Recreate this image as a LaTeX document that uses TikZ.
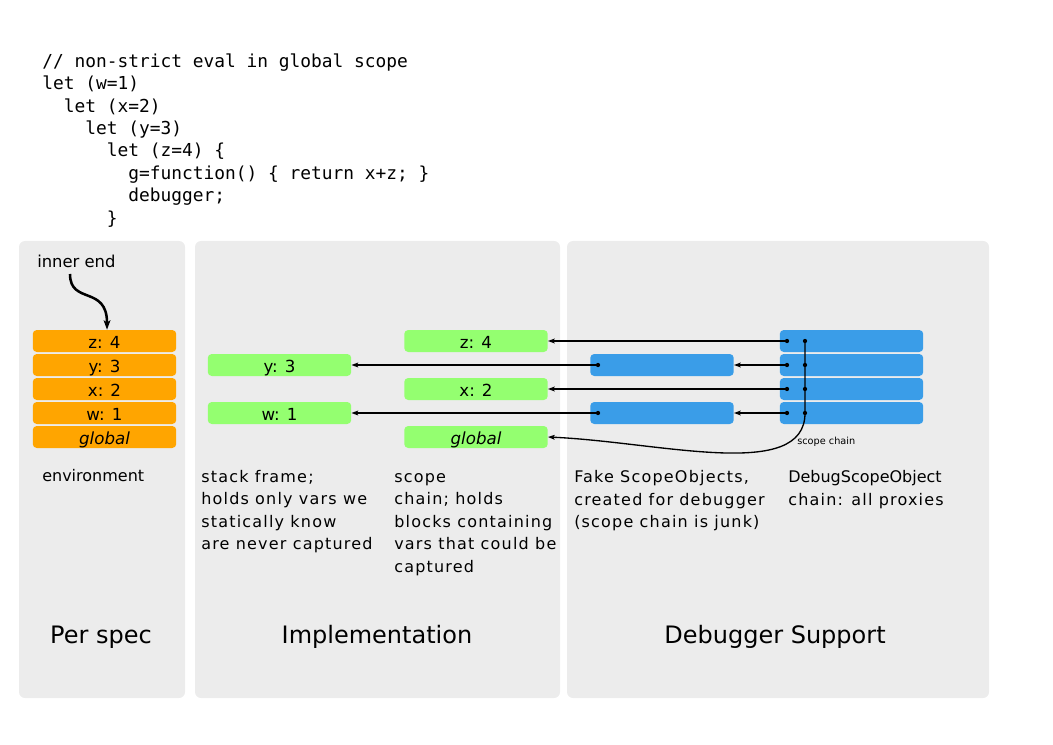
\documentclass[tikz,border=0pt]{standalone}
\usepackage{fontspec}
\setmainfont{DejaVu Sans}
\setmonofont{DejaVu Sans Mono}
\newfontfamily\spacedfont[LetterSpace=7.5]{DejaVu Sans}
\usetikzlibrary{arrows.meta}
\definecolor{panelgray}{HTML}{ECECEC}
\definecolor{envorange}{HTML}{FFA500}
\definecolor{implgreen}{HTML}{94FF70}
\definecolor{dbgblue}{HTML}{3A9DE8}
\begin{document}
\begin{tikzpicture}[x=0.75pt,y=-0.75pt,
  panel/.style={fill=panelgray,draw=none,rounded corners=4.5pt},
  cell/.style={rounded corners=3pt,minimum width=107.6pt,minimum height=16.5pt,
    inner sep=0pt,text height=11pt,text depth=0pt,font=\fontsize{12.5}{15}\selectfont},
  orangecell/.style={cell,fill=envorange},
  greencell/.style={cell,fill=implgreen},
  bluecell/.style={cell,fill=dbgblue},
  desc/.style={anchor=north west,align=left,inner sep=0pt,
    font=\spacedfont\fontsize{12}{16.875}\selectfont},
  plain/.style={anchor=base west,inner sep=0pt,font=\fontsize{12.3}{15}\selectfont},
  title/.style={anchor=base,inner sep=0pt,font=\fontsize{18}{22}\selectfont},
  arr/.style={line width=1pt,-{Stealth[length=5pt,width=3.6pt,inset=1pt]}},
  dot/.style={fill=black}]
\useasboundingbox (0,0) rectangle (1053,745);

% code
\node[anchor=north west,align=left,inner sep=0pt,
  font=\ttfamily\fontsize{13.4}{16.8}\selectfont] (code) at (42,51.3)
  {\strut// non-strict eval in global scope\\
   let (w=1)\\
   \phantom{xx}let (x=2)\\
   \phantom{xxxx}let (y=3)\\
   \phantom{xxxxxx}let (z=4) \{\\
   \phantom{xxxxxxxx}g=function() \{ return x+z; \}\\
   \phantom{xxxxxxxx}debugger;\\
   \phantom{xxxxxx}\}};

% panels
\fill[panel] (19,241) rectangle (185,698);
\fill[panel] (195,241) rectangle (560,698);
\fill[panel] (567,241) rectangle (989,698);

% per spec
\node[plain] (innerend) at (37,267.5) {inner end};
\node[orangecell] (oz) at (104.5,341) {z: 4};
\node[orangecell] (oy) at (104.5,365) {y: 3};
\node[orangecell] (ox) at (104.5,389) {x: 2};
\node[orangecell] (ow) at (104.5,413) {w: 1};
\node[orangecell] (og) at (104.5,437) {\itshape global};
\coordinate (innerstart) at (70,274);
\draw[line width=1.9pt,-{Stealth[length=7pt,width=5pt,inset=1.5pt]}]
  (innerstart) .. controls (70,305) and (107,285) .. ([xshift=1.9pt]oz.north);
\node[plain,font=\fontsize{12}{15}\selectfont] (env) at (42,481) {environment};
\node[title] (t1) at (101,643.5) {Per spec};

% implementation
\node[greencell] (gy) at (279.5,365) {y: 3};
\node[greencell] (gw) at (279.5,413) {w: 1};
\node[greencell] (gz) at (476,341) {z: 4};
\node[greencell] (gx) at (476,389) {x: 2};
\node[greencell] (gg) at (476,437) {\itshape global};
\node[desc] (stack) at (201,466.2) {\strut stack frame;\\holds only vars we\\statically know\\are never captured};
\node[desc] (scope) at (394,466.2) {\strut scope\\chain; holds\\blocks containing\\vars that could be\\captured};
\node[title] (t2) at (377,643.5) {Implementation};

% debugger support
\node[bluecell] (by) at (662,365) {};
\node[bluecell] (bw) at (662,413) {};
\node[bluecell] (dz) at (851.5,341) {};
\node[bluecell] (dy) at (851.5,365) {};
\node[bluecell] (dx) at (851.5,389) {};
\node[bluecell] (dw) at (851.5,413) {};
\node[desc] (fake) at (574,466.7) {\strut Fake ScopeObjects,\\created for debugger\\(scope chain is junk)};
\node[desc] (debug) at (788,466.7) {\strut{\rmfamily DebugScopeObject}\\chain: all proxies};
\node[title] (t3) at (775,643.5) {Debugger Support};
\node[anchor=base west,inner sep=0pt,font=\fontsize{7.3}{9}\selectfont] (sc) at (797,444) {scope chain};

% dots
\coordinate (pz) at (787,341);
\coordinate (py) at (787,365);
\coordinate (px) at (787,389);
\coordinate (pw) at (787,413);
\coordinate (cz) at (805,341);
\coordinate (cy) at (805,365);
\coordinate (cx) at (805,389);
\coordinate (cw) at (805,413);
\coordinate (fy) at (598,365);
\coordinate (fw) at (598,413);

\draw[arr] (pz) -- (gz.east);
\draw[arr] (py) -- (by.east);
\draw[arr] (fy) -- (gy.east);
\draw[arr] (px) -- (gx.east);
\draw[arr] (pw) -- (bw.east);
\draw[arr] (fw) -- (gw.east);
\draw[arr] (cz) -- (cw) .. controls (805,482) and (660,442) .. (gg.east);

\foreach \p in {pz,py,px,pw,cz,cy,cx,cw,fy,fw}
  \fill[dot] (\p) circle (1.6pt);
\end{tikzpicture}
\end{document}
